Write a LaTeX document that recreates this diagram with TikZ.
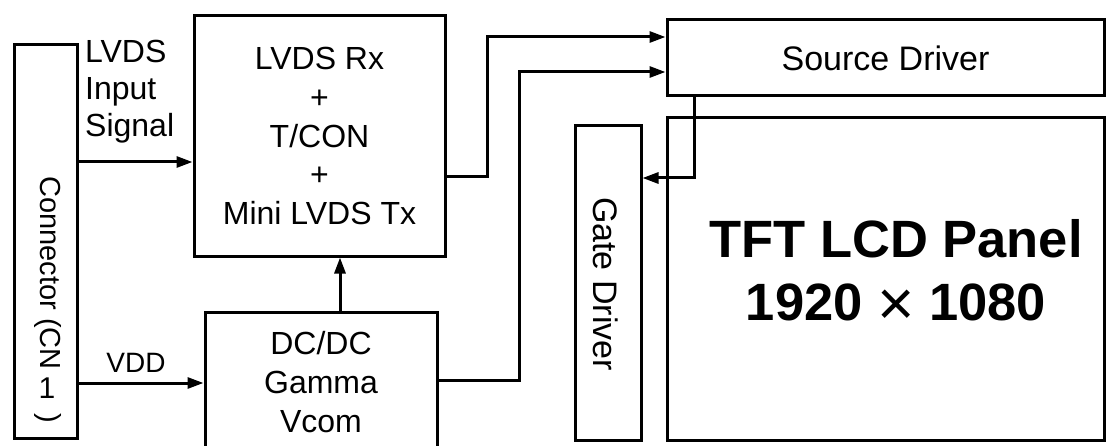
\documentclass[tikz,border=0pt]{standalone}
\usepackage{fontspec}
\setmainfont{Liberation Sans}
\usetikzlibrary{arrows.meta}
\begin{document}
\begin{tikzpicture}[x=1pt,y=-1pt,
  box/.style={draw, line width=3pt, inner sep=0pt, align=center},
  txt/.style={font=\fontsize{32}{38.75}\selectfont},
  conn/.style={line width=3pt, -{Triangle[length=16pt,width=11pt]}}]
\useasboundingbox (0,0) rectangle (1115,446);
\clip (0,0) rectangle (1115,446);
% boxes
\node[box, minimum width=63pt, minimum height=393pt] (cn) at (45.5,241.5) {};
\node[box, txt, minimum width=251pt, minimum height=240pt] (lvds) at (319.5,136) {LVDS Rx\\+\\T/CON\\+\\Mini LVDS Tx};
\node[box, txt, minimum width=232pt, minimum height=140pt] (dc) at (321,382) {DC/DC\\Gamma\\Vcom};
\node[box, font=\fontsize{34}{40}\selectfont, minimum width=437pt, minimum height=76pt] (src) at (885.5,58) {Source Driver};
\node[box, minimum width=437pt, minimum height=322pt] (panel) at (885.5,279) {};
\node[box, minimum width=66pt, minimum height=314pt] (gate) at (608,283) {};
% texts
\node[font=\fontsize{34}{40}\selectfont, rotate=-90] (gatet) at (606,284) {Gate Driver};
\node[font=\fontsize{29}{36}\selectfont, rotate=-90] (cnt1) at (48,273) {Connector (CN};
\node[font=\fontsize{30}{36}\selectfont] (cnt2) at (47,388) {1};
\node[font=\fontsize{29}{36}\selectfont, rotate=-90] (cnt3) at (48,418) {)};
\node[txt, font=\fontsize{32}{37}\selectfont, align=left, anchor=west, inner sep=0pt] (lin) at (85,92) {LVDS\\Input\\Signal};
\node[font=\fontsize{28}{30}\selectfont] (vdd) at (136,362.5) {VDD};
\node[font=\fontsize{52.5}{63}\selectfont\bfseries, align=center] (pt) at (896,272.5) {TFT LCD Panel\\1920 \raisebox{-5pt}{\mdseries\fontsize{64}{63}\selectfont ×} 1080};
% connectors
\draw[conn] (cn.east |- 0,162) -- (lvds.west |- 0,162);
\draw[conn] (cn.east |- 0,383) -- (dc.west |- 0,383);
\draw[conn] (lvds.east |- 0,177) -- (487,177) -- (487,37) -- (src.west |- 0,37);
\draw[conn] (dc.east |- 0,380) -- (519,380) -- (519,72) -- (src.west |- 0,72);
\draw[conn] (dc.north -| 340,0) -- (lvds.south -| 340,0);
\draw[conn] (src.south -| 694,0) -- (694,178) -- (gate.east |- 0,178);
\end{tikzpicture}
\end{document}
